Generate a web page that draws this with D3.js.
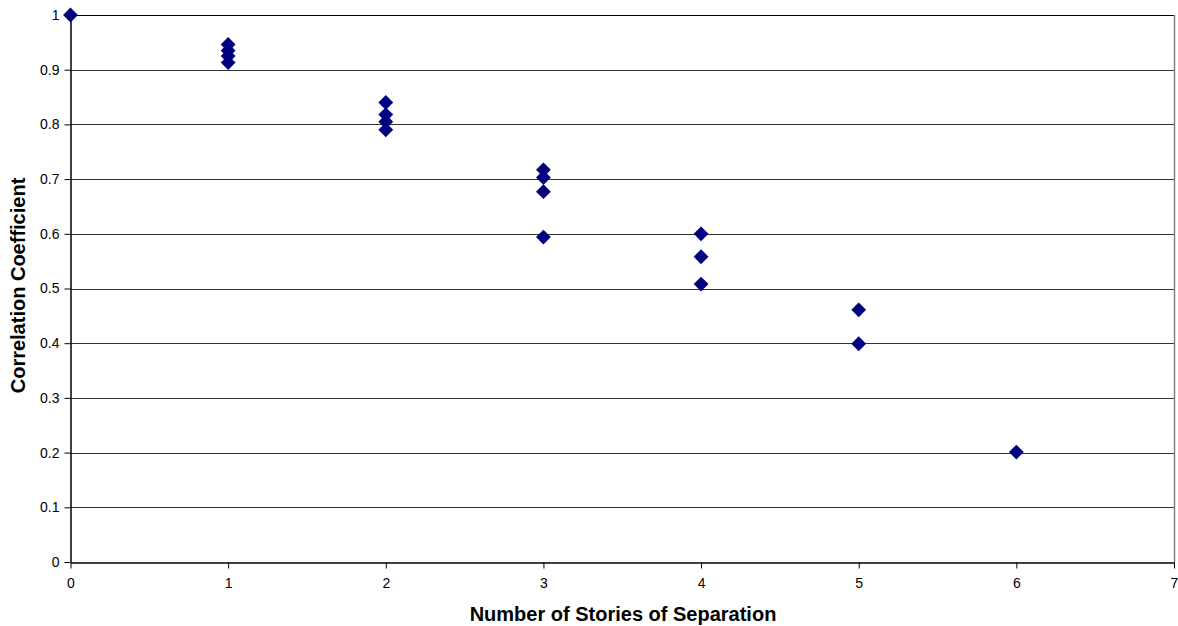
<!DOCTYPE html>
<html><head><meta charset="utf-8">
<script src="https://cdn.jsdelivr.net/npm/d3@7"></script>
<style>body{margin:0;background:#fff;}svg{display:block;}</style>
</head><body>
<script>
const xValues = [0, 1,1,1,1, 2,2,2,2, 3,3,3,3, 4,4,4, 5,5, 6];
const yValues = [1.0, 0.946,0.935,0.925,0.913, 0.840,0.818,0.805,0.790, 0.717,0.703,0.677,0.594, 0.600,0.558,0.508, 0.461,0.399, 0.201];
const xTicks = [0,1,2,3,4,5,6,7];
const yTicks = [0,0.1,0.2,0.3,0.4,0.5,0.6,0.7,0.8,0.9,1];
const xTitle = "Number of Stories of Separation";
const yTitle = "Correlation Coefficient";

const W = 1178, H = 626;
const m = {l:70.5, t:15, r:1174, b:562};
const svg = d3.select("body").append("svg").attr("width", W).attr("height", H);
const x = d3.scaleLinear().domain([0,7]).range([m.l, m.r]);
const y = d3.scaleLinear().domain([0,1]).range([m.b, m.t]);
const FONT = "Liberation Sans, Arial, sans-serif";

// grid
svg.append("g").selectAll("line").data(yTicks.filter(d=>d>0)).join("line")
  .attr("x1", m.l).attr("x2", m.r)
  .attr("y1", d=>Math.round(y(d))+0.5).attr("y2", d=>Math.round(y(d))+0.5)
  .attr("stroke", d=>d===1?"#000":"#333").attr("stroke-width",1);
// right border
svg.append("line").attr("x1", m.r+0.5).attr("x2", m.r+0.5).attr("y1", m.t).attr("y2", m.b)
  .attr("stroke","#808080").attr("stroke-width",1.5);

const xAxis = svg.append("g").attr("transform", `translate(0,${Math.round(m.b)+0.5})`)
  .call(d3.axisBottom(x).tickValues(xTicks).tickFormat(d3.format("d")).tickSize(6).tickSizeOuter(0));
const yAxis = svg.append("g").attr("transform", `translate(${Math.floor(m.l)+0.5},0)`)
  .call(d3.axisLeft(y).tickValues(yTicks).tickFormat(d=>d===0?"0":d===1?"1":d3.format(".1f")(d)).tickSize(6).tickSizeOuter(0));
[xAxis, yAxis].forEach(a=>{
  a.selectAll("path").attr("stroke","#000").attr("stroke-width",1.5);
  a.selectAll("line").attr("stroke","#000");
  a.selectAll("text").attr("font-family",FONT).attr("font-size",14).attr("fill","#000");
});
xAxis.selectAll("text").attr("y",25.5).attr("dy","0");
yAxis.selectAll("text").attr("x",-11);

// points
const sym = d3.symbol().type(d3.symbolSquare).size(110);
svg.append("g").selectAll("path").data(xValues.map((d,i)=>[d,yValues[i]])).join("path")
  .attr("d", sym)
  .attr("transform", d=>`translate(${x(d[0])},${y(d[1])}) rotate(45)`)
  .attr("fill","#000080");

svg.append("text").attr("x", 623).attr("y", 621)
  .attr("text-anchor","middle").attr("font-family",FONT)
  .attr("font-weight","bold").attr("font-size",20).text(xTitle);
svg.append("text").attr("transform", `translate(25,${(176+395)/2}) rotate(-90)`)
  .attr("text-anchor","middle").attr("font-family",FONT)
  .attr("font-weight","bold").attr("font-size",20).text(yTitle);
</script>
</body></html>
